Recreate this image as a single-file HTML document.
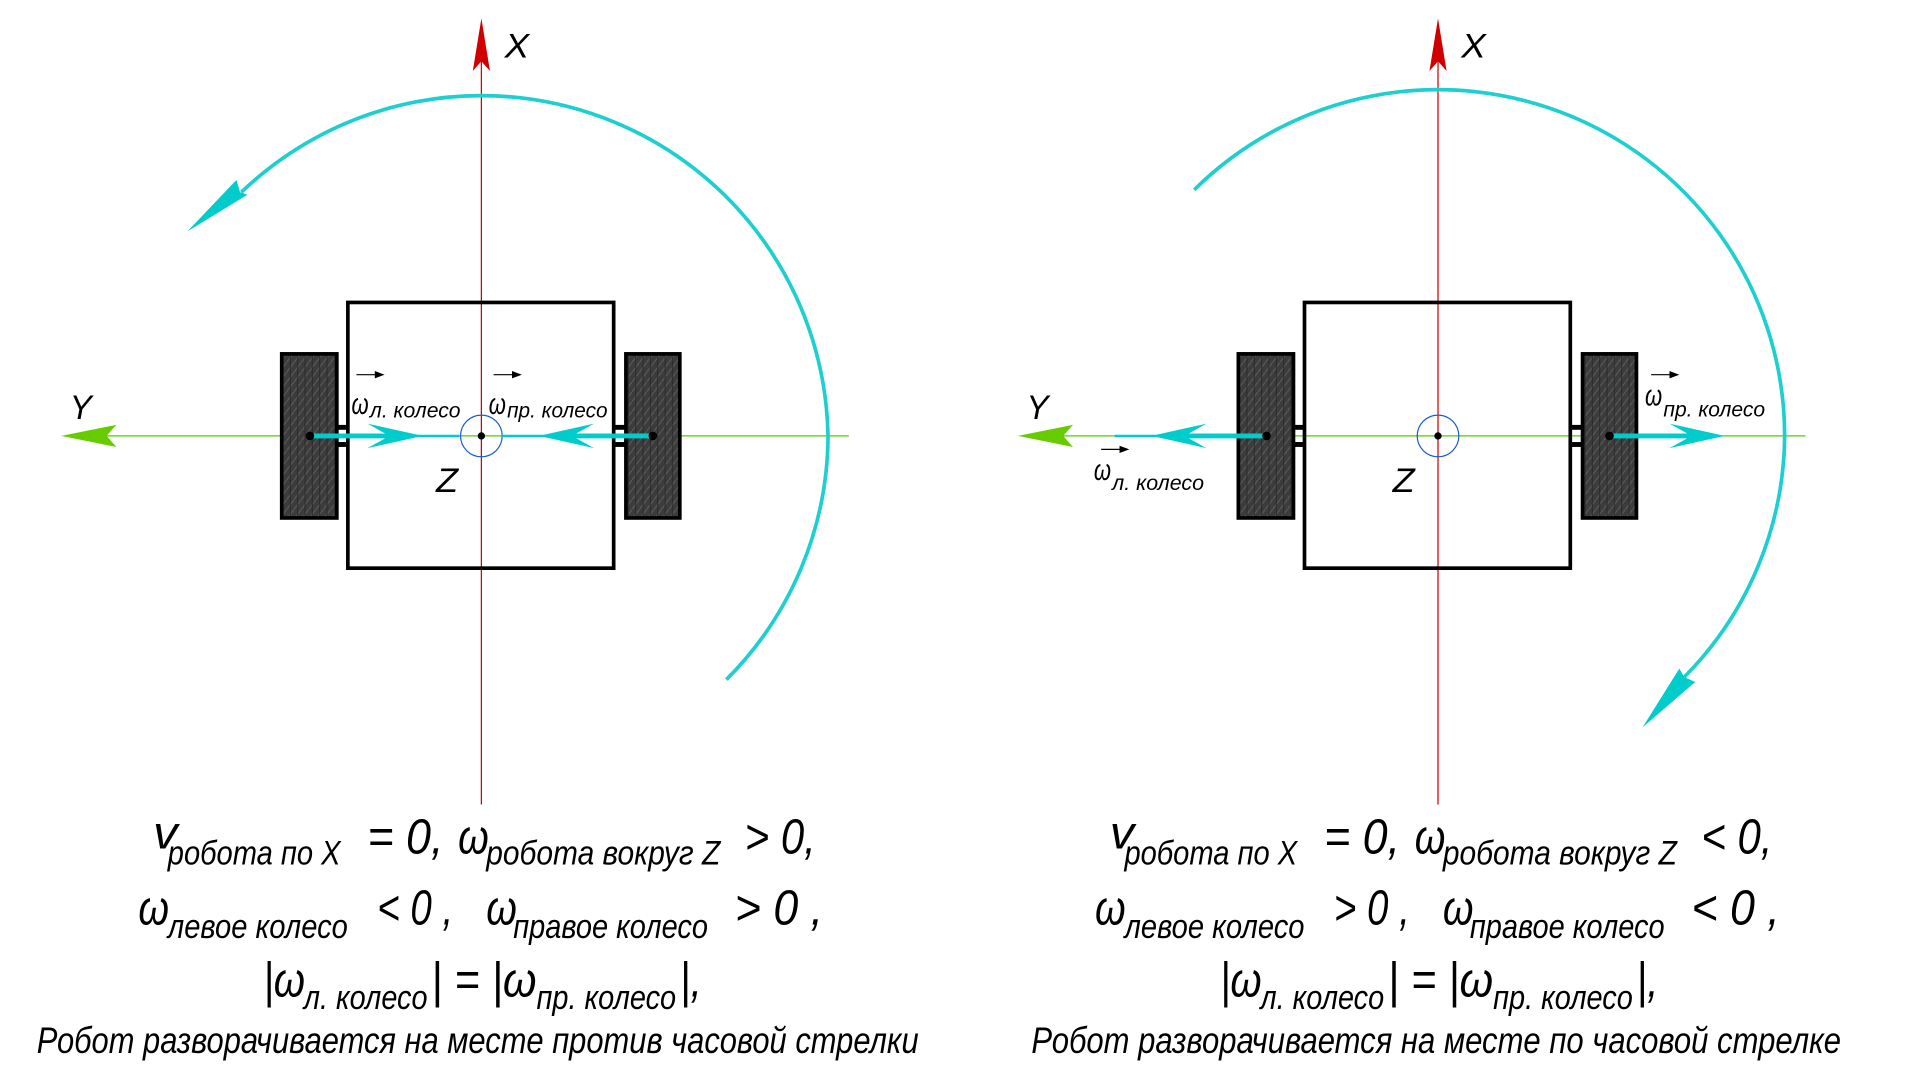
<!DOCTYPE html>
<html><head><meta charset="utf-8"><style>
html,body{margin:0;padding:0;background:#fff;overflow:hidden}
svg{display:block}
text{font-family:"Liberation Sans","DejaVu Sans",sans-serif;font-style:italic;fill:#000}
</style></head><body>
<svg width="1920" height="1080" viewBox="0 0 1567.5 882" preserveAspectRatio="none" xmlns="http://www.w3.org/2000/svg">
<defs>
<pattern id="tread" width="6" height="8" patternUnits="userSpaceOnUse">
<rect width="6" height="8" fill="#3c3c3c"/>
<path d="M0 8 L6 0" stroke="#5a5a5a" stroke-width="1"/>
<path d="M3 0 V8" stroke="#2a2a2a" stroke-width="0.8"/>
</pattern>
<g id="robot">
<line x1="393" y1="40" x2="393" y2="657" stroke="#d00000" stroke-width="1"/>
<polygon points="393,15 386,58 393,50 400,58" fill="#d00000"/>
<line x1="80" y1="356" x2="693" y2="356" stroke="#55cc00" stroke-width="1"/>
<polygon points="50,356 95,347 87,356 95,365" fill="#66cc00"/>
<rect x="284" y="247" width="217" height="217" fill="none" stroke="#000" stroke-width="3"/>
<rect x="276" y="347" width="8" height="4" fill="#000"/>
<rect x="276" y="361" width="8" height="4" fill="#000"/>
<rect x="501" y="347" width="9" height="4" fill="#000"/>
<rect x="501" y="361" width="9" height="4" fill="#000"/>
<rect x="230" y="289" width="45" height="134" fill="url(#tread)" stroke="#000" stroke-width="3"/>
<rect x="511" y="289" width="44" height="134" fill="url(#tread)" stroke="#000" stroke-width="3"/>
<circle cx="393" cy="356" r="17" fill="none" stroke="#1a5fd0" stroke-width="1"/>
<circle cx="393" cy="356" r="3" fill="#000"/>
<text x="356" y="402" font-size="28" textLength="18" lengthAdjust="spacingAndGlyphs">Z</text>
<text x="412" y="47" font-size="28" textLength="20" lengthAdjust="spacingAndGlyphs">X</text>
<text x="57" y="342" font-size="28" textLength="18" lengthAdjust="spacingAndGlyphs">Y</text>
</g>
</defs>

<use href="#robot"/>
<use href="#robot" x="781"/>

<!-- left diagram arrows -->
<line x1="253" y1="356" x2="320" y2="356" stroke="#00cccc" stroke-width="4"/>
<polygon points="345,356 300,346 318,356 300,366" fill="#00cccc"/>
<line x1="318" y1="356" x2="375" y2="356" stroke="#00cccc" stroke-width="2"/>
<line x1="533" y1="356" x2="465" y2="356" stroke="#00cccc" stroke-width="4"/>
<polygon points="440,356 485,346 467,356 485,366" fill="#00cccc"/>
<line x1="467" y1="356" x2="410" y2="356" stroke="#00cccc" stroke-width="2"/>
<circle cx="253" cy="356" r="3.5" fill="#000"/>
<circle cx="533" cy="356" r="3.5" fill="#000"/>
<path d="M 593 555 A 283 283 0 0 0 676 356 A 283 283 0 0 0 197 157" fill="none" stroke="#1ecfcf" stroke-width="3"/>
<polygon points="153,189 193,147 196,157 202,159" fill="#00cccc"/>
<text x="287" y="338" font-size="24" textLength="14" lengthAdjust="spacingAndGlyphs">ω</text>
<text x="302" y="341" font-size="17" textLength="74" lengthAdjust="spacingAndGlyphs">л. колесо</text>
<line x1="291" y1="306" x2="312" y2="306" stroke="#000" stroke-width="1"/><polygon points="314,306 306,303 306,309"/>
<text x="399" y="338" font-size="24" textLength="14" lengthAdjust="spacingAndGlyphs">ω</text>
<text x="414" y="341" font-size="17" textLength="82" lengthAdjust="spacingAndGlyphs">пр. колесо</text>
<line x1="403" y1="306" x2="424" y2="306" stroke="#000" stroke-width="1"/><polygon points="426,306 418,303 418,309"/>

<!-- right diagram arrows -->
<line x1="1034" y1="356" x2="965" y2="356" stroke="#00cccc" stroke-width="4"/>
<polygon points="940,356 985,346 967,356 985,366" fill="#00cccc"/>
<line x1="967" y1="356" x2="910" y2="356" stroke="#00cccc" stroke-width="2"/>
<line x1="1314" y1="356" x2="1385" y2="356" stroke="#00cccc" stroke-width="4"/>
<polygon points="1408,356 1363,346 1381,356 1363,366" fill="#00cccc"/>
<circle cx="1034" cy="356" r="3.5" fill="#000"/>
<circle cx="1314" cy="356" r="3.5" fill="#000"/>
<path d="M 975 155 A 283 283 0 0 1 1457 356 A 283 283 0 0 1 1375 553" fill="none" stroke="#1ecfcf" stroke-width="3"/>
<polygon points="1341,594 1371,546 1375,553 1384,557" fill="#00cccc"/>
<text x="1343" y="331" font-size="24" textLength="14" lengthAdjust="spacingAndGlyphs">ω</text>
<text x="1358" y="340" font-size="17" textLength="83" lengthAdjust="spacingAndGlyphs">пр. колесо</text>
<line x1="1348" y1="306" x2="1369" y2="306" stroke="#000" stroke-width="1"/><polygon points="1371,306 1363,303 1363,309"/>
<text x="893" y="392" font-size="24" textLength="14" lengthAdjust="spacingAndGlyphs">ω</text>
<text x="908" y="400" font-size="17" textLength="75" lengthAdjust="spacingAndGlyphs">л. колесо</text>
<line x1="899" y1="367" x2="920" y2="367" stroke="#000" stroke-width="1"/><polygon points="922,367 914,364 914,370"/>

<!-- Left formulas -->
<g>
<text x="125" y="693" font-size="38" textLength="20" lengthAdjust="spacingAndGlyphs">v</text>
<text x="137" y="706" font-size="28" textLength="141" lengthAdjust="spacingAndGlyphs">робота по X</text>
<text x="300" y="697" font-size="40" textLength="62" lengthAdjust="spacingAndGlyphs">= 0,</text>
<text x="374" y="697" font-size="40" textLength="25" lengthAdjust="spacingAndGlyphs">ω</text>
<text x="397" y="706" font-size="28" textLength="191" lengthAdjust="spacingAndGlyphs">робота вокруг Z</text>
<text x="608" y="697" font-size="40" textLength="58" lengthAdjust="spacingAndGlyphs">&gt; 0,</text>

<text x="113" y="755" font-size="40" textLength="25" lengthAdjust="spacingAndGlyphs">ω</text>
<text x="137" y="766" font-size="28" textLength="147" lengthAdjust="spacingAndGlyphs">левое колесо</text>
<text x="308" y="755" font-size="40" textLength="62" lengthAdjust="spacingAndGlyphs">&lt; 0 ,</text>
<text x="397" y="755" font-size="40" textLength="25" lengthAdjust="spacingAndGlyphs">ω</text>
<text x="419" y="766" font-size="28" textLength="159" lengthAdjust="spacingAndGlyphs">правое колесо</text>
<text x="600" y="755" font-size="40" textLength="72" lengthAdjust="spacingAndGlyphs">&gt; 0 ,</text>

<text x="215" y="814" font-size="40" textLength="34" lengthAdjust="spacingAndGlyphs">|ω</text>
<text x="248" y="824" font-size="28" textLength="101" lengthAdjust="spacingAndGlyphs">л. колесо</text>
<text x="352" y="814" font-size="40" textLength="86" lengthAdjust="spacingAndGlyphs">| = |ω</text>
<text x="438" y="824" font-size="28" textLength="114" lengthAdjust="spacingAndGlyphs">пр. колесо</text>
<text x="555" y="814" font-size="40" textLength="18" lengthAdjust="spacingAndGlyphs">|,</text>

<text x="30" y="860" font-size="30" textLength="720" lengthAdjust="spacingAndGlyphs">Робот разворачивается на месте против часовой стрелки</text>
</g>

<!-- Right formulas -->
<g transform="translate(781,0)">
<text x="125" y="693" font-size="38" textLength="20" lengthAdjust="spacingAndGlyphs">v</text>
<text x="137" y="706" font-size="28" textLength="141" lengthAdjust="spacingAndGlyphs">робота по X</text>
<text x="300" y="697" font-size="40" textLength="62" lengthAdjust="spacingAndGlyphs">= 0,</text>
<text x="374" y="697" font-size="40" textLength="25" lengthAdjust="spacingAndGlyphs">ω</text>
<text x="397" y="706" font-size="28" textLength="191" lengthAdjust="spacingAndGlyphs">робота вокруг Z</text>
<text x="608" y="697" font-size="40" textLength="58" lengthAdjust="spacingAndGlyphs">&lt; 0,</text>

<text x="113" y="755" font-size="40" textLength="25" lengthAdjust="spacingAndGlyphs">ω</text>
<text x="137" y="766" font-size="28" textLength="147" lengthAdjust="spacingAndGlyphs">левое колесо</text>
<text x="308" y="755" font-size="40" textLength="62" lengthAdjust="spacingAndGlyphs">&gt; 0 ,</text>
<text x="397" y="755" font-size="40" textLength="25" lengthAdjust="spacingAndGlyphs">ω</text>
<text x="419" y="766" font-size="28" textLength="159" lengthAdjust="spacingAndGlyphs">правое колесо</text>
<text x="600" y="755" font-size="40" textLength="72" lengthAdjust="spacingAndGlyphs">&lt; 0 ,</text>

<text x="215" y="814" font-size="40" textLength="34" lengthAdjust="spacingAndGlyphs">|ω</text>
<text x="248" y="824" font-size="28" textLength="101" lengthAdjust="spacingAndGlyphs">л. колесо</text>
<text x="352" y="814" font-size="40" textLength="86" lengthAdjust="spacingAndGlyphs">| = |ω</text>
<text x="438" y="824" font-size="28" textLength="114" lengthAdjust="spacingAndGlyphs">пр. колесо</text>
<text x="555" y="814" font-size="40" textLength="18" lengthAdjust="spacingAndGlyphs">|,</text>

<text x="61" y="860" font-size="30" textLength="661" lengthAdjust="spacingAndGlyphs">Робот разворачивается на месте по часовой стрелке</text>
</g>
</svg>
</body></html>
